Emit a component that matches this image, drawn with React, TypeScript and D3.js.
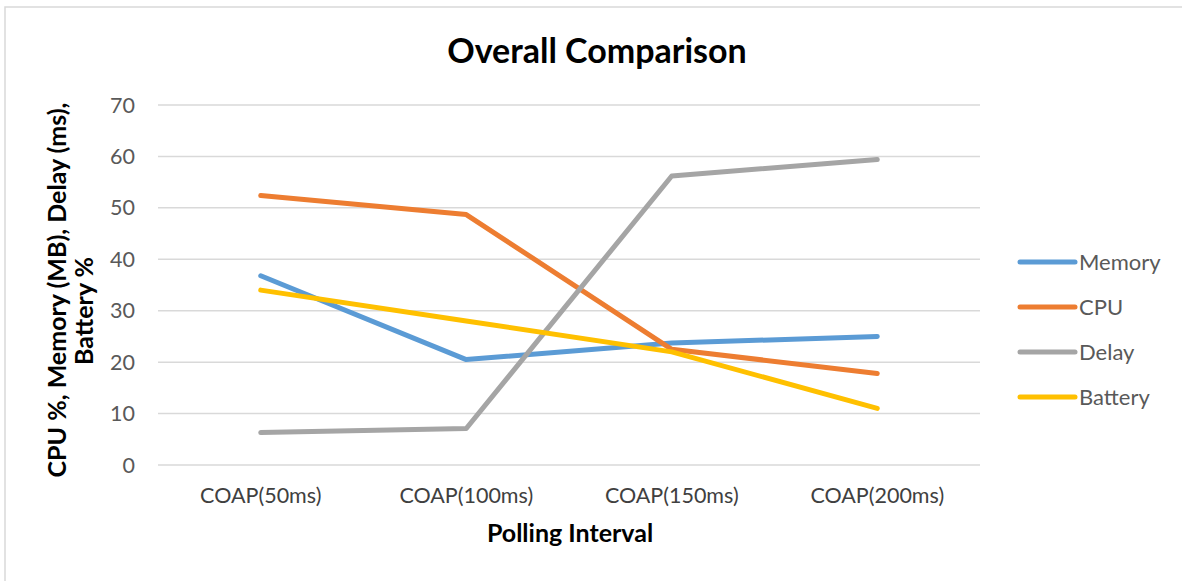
import { useRef, useEffect } from 'react'
import * as d3 from 'd3'

const categories = ['COAP(50ms)', 'COAP(100ms)', 'COAP(150ms)', 'COAP(200ms)']
const memory = [36.8, 20.5, 23.7, 25.0]
const cpu = [52.4, 48.7, 22.5, 17.8]
const delay = [6.3, 7.1, 56.2, 59.4]
const battery = [34.0, 28.0, 22.0, 11.0]
const yTicks = [0, 10, 20, 30, 40, 50, 60, 70]

const seriesNames = ['Memory', 'CPU', 'Delay', 'Battery']
const seriesColors = ['#5B9BD5', '#ED7D31', '#A5A5A5', '#FFC000']

const FONT = 'Lato, "Open Sans", sans-serif'

const App = () => {
  const svgRef = useRef<SVGSVGElement>(null)
  const width = 1182
  const height = 581

  useEffect(() => {
    if (!svgRef.current) return
    const svg = d3.select(svgRef.current)
    svg.selectAll('*').remove()

    const allSeries = [memory, cpu, delay, battery]
    const plot = { left: 158, right: 980, top: 105, bottom: 465 }

    // chart frame
    svg.append('rect')
      .attr('x', 5)
      .attr('y', 7)
      .attr('width', width + 10)
      .attr('height', height + 10)
      .attr('fill', 'white')
      .attr('stroke', '#d9d9d9')
      .attr('stroke-width', 1.5)

    const x = d3.scaleBand<string>()
      .domain(categories)
      .range([plot.left, plot.right])
    const y = d3.scaleLinear()
      .domain([0, 70])
      .range([plot.bottom, plot.top])

    // grid
    svg.append('g')
      .selectAll('line')
      .data(yTicks)
      .join('line')
      .attr('x1', plot.left)
      .attr('x2', plot.right)
      .attr('y1', d => y(d))
      .attr('y2', d => y(d))
      .attr('stroke', '#d9d9d9')
      .attr('stroke-width', 1.5)

    // y tick labels
    svg.append('g')
      .selectAll('text')
      .data(yTicks)
      .join('text')
      .attr('x', 135)
      .attr('y', d => y(d))
      .attr('dy', '0.35em')
      .attr('text-anchor', 'end')
      .attr('fill', '#595959')
      .style('font-family', FONT)
      .style('font-size', '21.5px')
      .text(d => d)

    // category labels
    svg.append('g')
      .selectAll('text')
      .data(categories)
      .join('text')
      .attr('x', d => (x(d) || 0) + x.bandwidth() / 2)
      .attr('y', 503)
      .attr('text-anchor', 'middle')
      .attr('fill', '#404040')
      .style('font-family', FONT)
      .style('font-size', '21.5px')
      .text(d => d)

    // lines
    const line = d3.line<number>()
      .x((_, i) => (x(categories[i]) || 0) + x.bandwidth() / 2)
      .y(d => y(d))

    allSeries.forEach((s, i) => {
      svg.append('path')
        .datum(s)
        .attr('fill', 'none')
        .attr('stroke', seriesColors[i])
        .attr('stroke-width', 5)
        .attr('stroke-linecap', 'round')
        .attr('stroke-linejoin', 'round')
        .attr('d', line)
    })

    // title
    svg.append('text')
      .attr('x', 597)
      .attr('y', 63)
      .attr('text-anchor', 'middle')
      .attr('fill', '#000')
      .style('font-family', FONT)
      .style('font-size', '34px')
      .style('font-weight', 'bold')
      .text('Overall Comparison')

    // axis titles
    svg.append('text')
      .attr('x', 570)
      .attr('y', 542)
      .attr('text-anchor', 'middle')
      .attr('fill', '#000')
      .style('font-family', FONT)
      .style('font-size', '25px')
      .style('font-weight', 'bold')
      .text('Polling Interval')

    svg.append('text')
      .attr('transform', 'translate(66,290) rotate(-90)')
      .attr('text-anchor', 'middle')
      .attr('fill', '#000')
      .style('font-family', FONT)
      .style('font-size', '25px')
      .style('font-weight', 'bold')
      .text('CPU %, Memory (MB), Delay (ms),')

    svg.append('text')
      .attr('transform', 'translate(93,311) rotate(-90)')
      .attr('text-anchor', 'middle')
      .attr('fill', '#000')
      .style('font-family', FONT)
      .style('font-size', '25px')
      .style('font-weight', 'bold')
      .text('Battery %')

    // legend
    const legend = svg.append('g')
    seriesNames.forEach((name, i) => {
      const ly = 262 + i * 45
      legend.append('line')
        .attr('x1', 1020)
        .attr('x2', 1075)
        .attr('y1', ly)
        .attr('y2', ly)
        .attr('stroke', seriesColors[i])
        .attr('stroke-width', 5)
        .attr('stroke-linecap', 'round')
      legend.append('text')
        .attr('x', 1079)
        .attr('y', ly)
        .attr('dy', '0.35em')
        .attr('fill', '#595959')
        .style('font-family', FONT)
        .style('font-size', '22px')
        .text(name)
    })
  }, [])

  return (
    <div style={{ position: 'absolute', left: 0, top: 0, width, height, overflow: 'hidden' }}>
      <svg ref={svgRef} width={width} height={height} style={{ display: 'block' }} />
    </div>
  )
}

export default App
